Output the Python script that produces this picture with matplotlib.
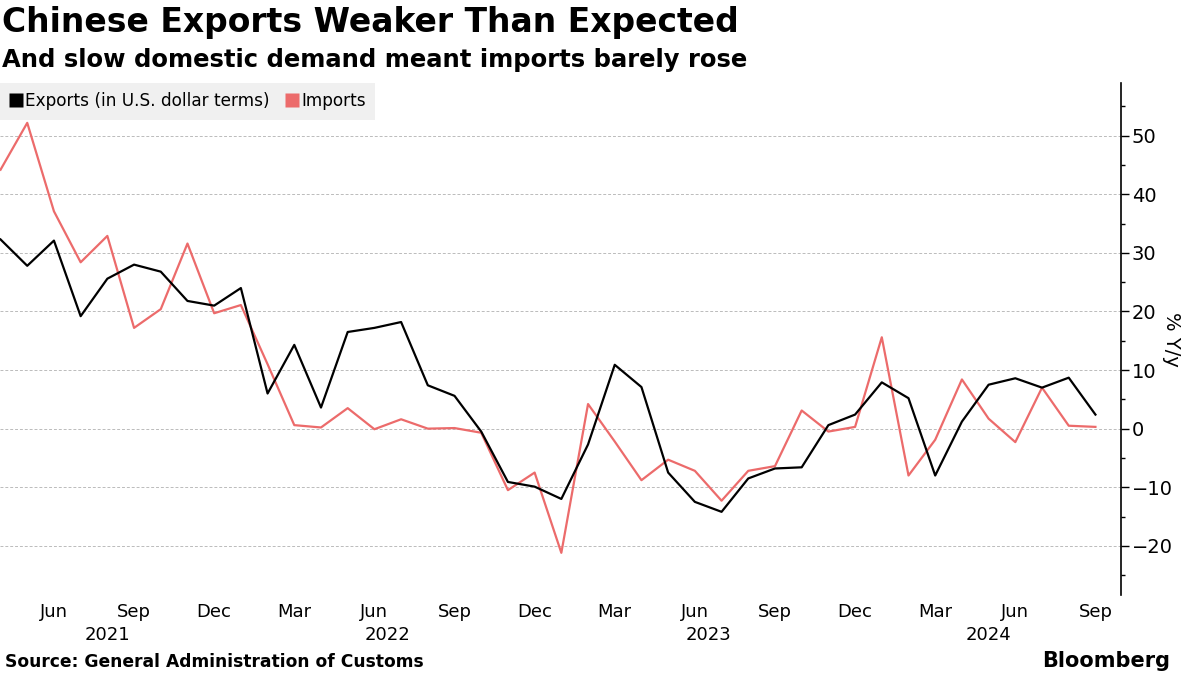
import numpy as np
import matplotlib
matplotlib.use("Agg")
import matplotlib.pyplot as plt
from matplotlib.lines import Line2D
from matplotlib import transforms

# monthly data, Apr 2021 .. Sep 2024 (% y/y)
years = [2021] * 9 + [2022] * 12 + [2023] * 12 + [2024] * 9
months = list(range(4, 13)) + list(range(1, 13)) * 2 + list(range(1, 10))

exports = [32.3, 27.8, 32.1, 19.2, 25.6, 28.0, 26.8, 21.8, 21.0,
           24.0, 6.0, 14.3, 3.6, 16.5, 17.2, 18.2, 7.4, 5.6, -0.5, -9.1, -9.9,
           -12.0, -2.7, 10.9, 7.1, -7.5, -12.5, -14.2, -8.5, -6.8, -6.6, 0.6, 2.4,
           7.9, 5.2, -8.0, 1.2, 7.5, 8.6, 7.0, 8.7, 2.4]
imports = [44.2, 52.2, 37.1, 28.4, 32.9, 17.2, 20.4, 31.6, 19.7,
           21.1, 11.0, 0.6, 0.2, 3.5, -0.1, 1.6, 0.0, 0.1, -0.7, -10.5, -7.5,
           -21.2, 4.2, -2.2, -8.8, -5.3, -7.2, -12.3, -7.2, -6.4, 3.1, -0.5, 0.3,
           15.6, -8.0, -1.9, 8.4, 1.7, -2.3, 7.0, 0.5, 0.3]

month_names = {3: "Mar", 6: "Jun", 9: "Sep", 12: "Dec"}

black = "#000000"
red = "#ec6b6b"

plt.rcParams['font.family'] = ['DejaVu Sans']

fig = plt.figure(figsize=(12, 6.75), dpi=100)
ax = fig.add_axes([0.0, 0.1185, 0.934, 0.7585])

x = np.arange(len(exports))
ax.plot(x, exports, color=black, lw=1.6, zorder=3)
ax.plot(x, imports, color=red, lw=1.6, zorder=2)

ax.set_xlim(-0.02, 41.95)
ax.set_ylim(-28.4, 59)

# y axis on the right
ax.yaxis.tick_right()
ax.yaxis.set_label_position("right")
ax.set_yticks(np.arange(-20, 51, 10))
ax.set_yticks(np.arange(-25, 56, 5), minor=True)
ax.tick_params(axis='y', which='major', length=6, width=1, labelsize=14, pad=2)
ax.tick_params(axis='y', which='minor', length=3, width=1)
ax.set_ylabel("% Y/y", rotation=270, fontsize=14, labelpad=6)
for s in ["top", "left", "bottom"]:
    ax.spines[s].set_visible(False)
ax.spines["right"].set_linewidth(1.2)
ax.grid(axis='y', which='major', color="#bbbbbb", linestyle=(0, (3, 2)), lw=0.7)

# x ticks: quarter months, year labels beneath
tick_pos = [i for i, m in enumerate(months) if m in month_names]
ax.set_xticks(tick_pos)
ax.set_xticklabels([month_names[months[i]] for i in tick_pos], fontsize=13)
ax.tick_params(axis='x', length=0, pad=6)

trans = transforms.blended_transform_factory(ax.transData, ax.transAxes)
for yr in sorted(set(years)):
    idx = [i for i, y in enumerate(years) if y == yr]
    ax.text((idx[0] + idx[-1]) / 2, -0.06, str(yr), transform=trans,
            ha='center', va='top', fontsize=13)

# legend
handles = [Line2D([], [], marker='s', color='none', markerfacecolor=black,
                  markeredgecolor='none', markersize=10),
           Line2D([], [], marker='s', color='none', markerfacecolor=red,
                  markeredgecolor='none', markersize=10)]
leg = ax.legend(handles, ["Exports (in U.S. dollar terms)", "Imports"],
                loc='upper left', bbox_to_anchor=(0.0, 1.0), ncol=2,
                fontsize=12.2, frameon=True, fancybox=False,
                handlelength=0.8, handletextpad=0.15, columnspacing=0.9,
                borderpad=0.55, borderaxespad=0.0)
leg.get_frame().set_facecolor("#f0f0f0")
leg.get_frame().set_edgecolor("none")
leg.get_frame().set_alpha(1)
leg.set_zorder(5)

fig.text(0.002, 0.967, "Chinese Exports Weaker Than Expected",
         fontsize=23.8, fontweight='bold', ha='left', va='center')
fig.text(0.002, 0.911, "And slow domestic demand meant imports barely rose",
         fontsize=17.5, fontweight='bold', ha='left', va='center')
fig.text(0.004, 0.019, "Source: General Administration of Customs",
         fontsize=12.3, fontweight='bold', ha='left', va='center')
fig.text(0.975, 0.021, "Bloomberg", fontsize=15, fontweight='bold',
         ha='right', va='center')

fig.savefig("out.png", dpi=100)
